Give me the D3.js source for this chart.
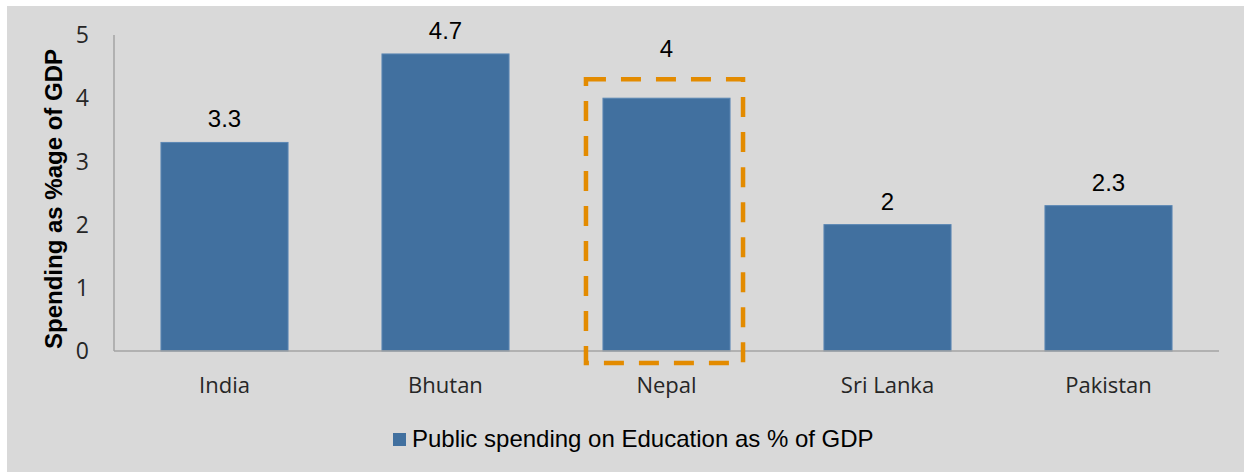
<!DOCTYPE html>
<html><head><meta charset="utf-8">
<script src="https://cdn.jsdelivr.net/npm/d3@7/dist/d3.min.js"></script>
<style>html,body{margin:0;padding:0;background:#fff;}svg{display:block;}</style>
</head><body>
<svg id="c" width="1244" height="472"></svg>
<script>
const categories = ["India", "Bhutan", "Nepal", "Sri Lanka", "Pakistan"];
const values = [3.3, 4.7, 4, 2, 2.3];
const valueLabels = ["3.3", "4.7", "4", "2", "2.3"];
const yTicks = [0, 1, 2, 3, 4, 5];
const seriesName = "Public spending on Education as % of GDP";
const yTitle = "Spending as %age of GDP";
const highlighted = "Nepal";

const svg = d3.select("#c");
svg.append("rect").attr("x", 7).attr("y", 6).attr("width", 1237).attr("height", 466).attr("fill", "#d9d9d9");

const x = d3.scaleBand().domain(categories).range([114, 1219]).paddingInner(0.425).paddingOuter(0.2125);
const y = d3.scaleLinear().domain([0, 5]).range([351, 35]);

const barColor = "#41709f";
const hi = categories.indexOf(highlighted);
const boxTop = y(values[hi]) - 19;

// bars
svg.selectAll("rect.bar").data(categories).enter().append("rect")
  .attr("class", "bar")
  .attr("x", d => x(d)).attr("width", x.bandwidth())
  .attr("y", (d, i) => y(values[i])).attr("height", (d, i) => y(0) - y(values[i]))
  .attr("fill", barColor).attr("stroke", "#5b87b4").attr("stroke-width", 1);

// axes lines
const axisColor = "#a3a3a3";
svg.append("line").attr("x1", 114).attr("x2", 114).attr("y1", y(5)).attr("y2", y(0))
  .attr("stroke", axisColor).attr("stroke-width", 1.5);
svg.append("line").attr("x1", 114).attr("x2", 1219).attr("y1", y(0)).attr("y2", y(0))
  .attr("stroke", axisColor).attr("stroke-width", 1.5);

// y tick labels
svg.selectAll("text.yt").data(yTicks).enter().append("text")
  .attr("class", "yt").attr("x", 89).attr("y", d => y(d)).attr("dy", "0.36em")
  .attr("text-anchor", "end").attr("font-family", "Open Sans").attr("font-size", 23)
  .attr("fill", "#262626").text(d => d);

// category labels
svg.selectAll("text.xc").data(categories).enter().append("text")
  .attr("class", "xc").attr("x", d => x(d) + x.bandwidth() / 2).attr("y", 393)
  .attr("text-anchor", "middle").attr("font-family", "Open Sans").attr("font-size", 22)
  .attr("fill", "#262626").text(d => d);

// value labels
svg.selectAll("text.vl").data(categories).enter().append("text")
  .attr("class", "vl").attr("x", d => x(d) + x.bandwidth() / 2)
  .attr("y", (d, i) => i === hi ? boxTop - 22 : y(values[i]) - 15)
  .attr("text-anchor", "middle").attr("font-family", "Liberation Sans, Arial").attr("font-size", 24)
  .attr("fill", "#000").text((d, i) => valueLabels[i]);

// highlight dashed box
svg.append("rect")
  .attr("x", x(highlighted) - 17).attr("width", x.bandwidth() + 30)
  .attr("y", boxTop).attr("height", y(0) + 12 - boxTop)
  .attr("fill", "none").attr("stroke", "#e38b00").attr("stroke-width", 4.5)
  .attr("stroke-dasharray", "20,15");

// y title
svg.append("text").attr("transform", "translate(62,199) rotate(-90)")
  .attr("text-anchor", "middle").attr("font-family", "Liberation Sans, Arial")
  .attr("font-weight", "bold").attr("font-size", 24).attr("fill", "#000").text(yTitle);

// legend
svg.append("rect").attr("x", 393).attr("y", 433).attr("width", 13).attr("height", 13).attr("fill", barColor);
svg.append("text").attr("x", 412).attr("y", 447).attr("font-family", "Liberation Sans, Arial")
  .attr("font-size", 24).attr("fill", "#000").text(seriesName);
</script>
</body></html>
